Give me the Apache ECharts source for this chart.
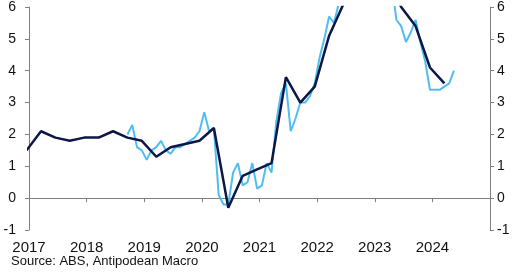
<!DOCTYPE html>
<html>
<head>
<meta charset="utf-8">
<script src="https://cdn.jsdelivr.net/npm/echarts@6/dist/echarts.min.js"></script>
<style>
html,body{margin:0;padding:0;background:#fff;}
#c{width:520px;height:272px;}
</style>
</head>
<body>
<div id="c"></div>
<script>
// Quarterly series (dark)
var quarterDates = ['2016-12','2017-03','2017-06','2017-09','2017-12','2018-03','2018-06','2018-09','2018-12',
  '2019-03','2019-06','2019-09','2019-12','2020-03','2020-06','2020-09','2020-12','2021-03','2021-06','2021-09','2021-12',
  '2022-03','2022-06','2022-09','2022-12','2023-03','2023-06','2023-09','2023-12','2024-03'];
var quarterValues = [1.5,2.1,1.9,1.8,1.9,1.9,2.1,1.9,1.8,
  1.3,1.6,1.7,1.8,2.2,-0.3,0.7,0.9,1.1,3.8,3.0,3.5,
  5.1,6.1,7.3,7.8,7.0,6.0,5.4,4.1,3.6];

// Monthly series (light), Sep 2018 - May 2024
var monthStart = '2018-09';
var monthValues = [2.0,2.3,1.6,1.5,
  1.2,1.5,1.6,1.8,1.5,1.4,1.6,1.6,1.7,1.8,1.9,2.1,
  2.7,2.1,2.2,0.1,-0.2,-0.2,0.8,1.1,0.4,0.5,1.1,0.3,
  0.4,1.1,0.8,2.4,3.3,3.6,2.1,2.5,3.0,3.0,3.2,3.6,
  4.4,5.0,5.7,5.5,6.1,6.2,7.0,6.8,7.3,6.9,7.4,8.4,
  7.4,6.8,6.3,6.8,5.6,5.4,4.9,5.2,5.6,4.9,4.3,3.4,
  3.4,3.4,3.5,3.6,4.0];

var yearTicks = [2017,2018,2019,2020,2021,2022,2023,2024];
var sourceText = 'Source: ABS, Antipodean Macro';

function toYear(s){ var p = s.split('-'); return +p[0] + (+p[1] - 0.5)/12; }
var darkData = quarterDates.map(function(d,i){ return [toYear(d), quarterValues[i]]; });
var sp = monthStart.split('-'); var y0 = +sp[0], m0 = +sp[1];
var lightData = monthValues.map(function(v,i){
  var mm = m0 - 1 + i; var yy = y0 + Math.floor(mm/12); var mo = mm % 12 + 1;
  return [yy + (mo - 0.5)/12, v];
});

var FONT = '"Liberation Sans", Arial, sans-serif';
var axisGray = '#808080';
var chart = echarts.init(document.getElementById('c'), null, {renderer:'canvas'});
chart.setOption({
  animation:false,
  backgroundColor:'#ffffff',
  grid:{left:29, right:30, top:5, bottom:42, containLabel:false},
  xAxis:[{
    type:'value', min:2017, max:2025, interval:1,
    axisLine:{show:true, onZero:true, onZeroAxisIndex:0, lineStyle:{color:axisGray, width:1}},
    axisTick:{show:true, inside:false, length:4, lineStyle:{color:axisGray}},
    axisLabel:{show:false},
    splitLine:{show:false}
  },{
    type:'value', min:2017, max:2025, interval:1, position:'bottom',
    axisLine:{show:false, onZero:false}, axisTick:{show:false}, splitLine:{show:false},
    axisLabel:{show:true, margin:10, color:'#111', fontFamily:FONT, fontSize:15,
      formatter:function(v){ return yearTicks.indexOf(v) >= 0 ? String(v) : ''; }}
  }],
  yAxis:[{
    type:'value', min:-1, max:6, interval:1, position:'left',
    axisLine:{show:true, lineStyle:{color:axisGray}},
    axisTick:{show:true, inside:false, length:4, lineStyle:{color:axisGray}},
    axisLabel:{margin:13, color:'#111', fontFamily:FONT, fontSize:14},
    splitLine:{show:false}
  },{
    type:'value', min:-1, max:6, interval:1, position:'right',
    axisLine:{show:true, lineStyle:{color:axisGray}},
    axisTick:{show:true, inside:false, length:4, lineStyle:{color:axisGray}},
    axisLabel:{margin:7, color:'#111', fontFamily:FONT, fontSize:14},
    splitLine:{show:false}
  }],
  graphic:[{
    type:'text', left:11, top:255,
    style:{text:sourceText, fill:'#111', font:'13px "Liberation Sans", Arial, sans-serif'}
  }],
  series:[{
    type:'line', data:lightData, xAxisIndex:0, yAxisIndex:0,
    showSymbol:false, symbol:'none', clip:true,
    lineStyle:{color:'#4fbdf0', width:2}, z:2
  },{
    type:'line', data:darkData, xAxisIndex:0, yAxisIndex:0,
    showSymbol:false, symbol:'none', clip:true,
    lineStyle:{color:'#0b1847', width:2.5}, z:3
  }]
});
</script>
</body>
</html>
